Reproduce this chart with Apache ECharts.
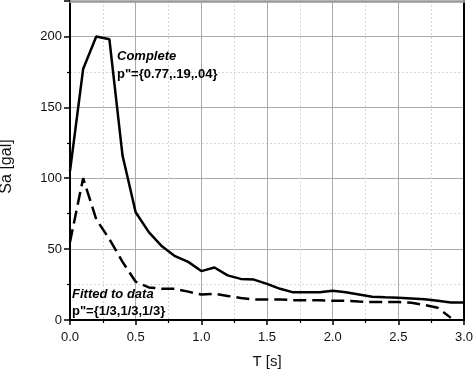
<!DOCTYPE html>
<html>
<head>
<meta charset="utf-8">
<script src="https://cdn.jsdelivr.net/npm/echarts@6/dist/echarts.min.js"></script>
<style>html,body{margin:0;padding:0;background:#fff}#c{width:474px;height:370px}</style>
</head>
<body>
<div id="c"></div>
<script>
var periods = [0.0,0.1,0.2,0.3,0.4,0.5,0.6,0.7,0.8,0.9,1.0,1.1,1.2,1.3,1.4,1.5,1.6,1.7,1.8,1.9,2.0,2.1,2.2,2.3,2.4,2.5,2.6,2.7,2.8,2.9,3.0];
var completeSa = [105,177,200,198,116,76,62,52,45,41,34.5,37,31.5,29,28.5,25.5,22,19.5,19.5,19.5,20.6,19.5,18,16.4,16,15.7,15.2,14.6,13.5,12.4,12.4];
var fittedSa = [55,100,71,57,41,27,23,22,22,20,18,18.5,17,15.5,14.5,14.5,14.5,14,14,14,13.6,13.5,13,12.7,12.7,12.7,12.2,10.6,8.7,1.5,null];
var xTicks = ['0.0','0.5','1.0','1.5','2.0','2.5','3.0'];
var yTicks = ['0','50','100','150','200'];
var completeLabel = ['Complete', 'p"={0.77,.19,.04}'];
var fittedLabel = ['Fitted to data', 'p"={1/3,1/3,1/3}'];

function pairs(xs, ys){ var out=[]; for(var i=0;i<xs.length;i++){ if(ys[i]!==null) out.push([xs[i], ys[i]]); } return out; }

var FONT = 'Liberation Sans, Arial, Helvetica, sans-serif';
var chart = echarts.init(document.getElementById('c'), null, {renderer:'canvas'});
chart.setOption({
  animation:false,
  backgroundColor:'#fff',
  grid:{left:70,right:10,top:1,bottom:50,containLabel:false,outerBoundsMode:'none'},
  xAxis:[{
    type:'value',min:0,max:3,interval:0.5,
    name:'T [s]',nameLocation:'middle',nameGap:34,
    nameTextStyle:{fontFamily:FONT,fontSize:15,color:'#111'},
    axisLine:{show:true,onZero:false,lineStyle:{color:'#000',width:2}},
    axisTick:{show:true,inside:false,length:5,lineStyle:{color:'#000',width:1.5}},
    minorTick:{show:true,splitNumber:2,length:3,lineStyle:{color:'#000',width:1.2}},
    axisLabel:{fontFamily:FONT,fontSize:13,color:'#111',margin:11,formatter:function(v){var s=v.toFixed(1);return xTicks.indexOf(s)>=0?s:'';}},
    splitLine:{show:true,lineStyle:{color:'#aaaaaa',width:1}},
    minorSplitLine:{show:true,lineStyle:{color:'#d6d6d6',width:1,type:[2,2]}}
  },{
    type:'value',min:0,max:3,interval:0.5,position:'top',
    axisLine:{show:true,onZero:false,lineStyle:{color:'#9a9a9a',width:2.5}},
    axisTick:{show:false},axisLabel:{show:false},splitLine:{show:false}
  }],
  yAxis:[{
    type:'value',min:0,max:225,interval:50,
    name:'Sa [gal]',nameLocation:'middle',nameGap:55,nameRotate:90,
    nameTextStyle:{fontFamily:FONT,fontSize:16,color:'#111',padding:[0,12,0,0]},
    axisLine:{show:true,onZero:false,lineStyle:{color:'#000',width:2}},
    axisTick:{show:true,inside:false,length:6,lineStyle:{color:'#000',width:1.5}},
    minorTick:{show:true,splitNumber:2,length:3,lineStyle:{color:'#000',width:1.2}},
    axisLabel:{fontFamily:FONT,fontSize:13,color:'#111',margin:8,showMaxLabel:false,formatter:function(v){var s=String(v);return yTicks.indexOf(s)>=0?s:'';}},
    splitLine:{show:true,lineStyle:{color:'#aaaaaa',width:1}},
    minorSplitLine:{show:true,lineStyle:{color:'#d6d6d6',width:1,type:[2,2]}}
  },{
    type:'value',min:0,max:225,interval:50,position:'right',
    axisLine:{show:true,onZero:false,lineStyle:{color:'#000',width:2}},
    axisTick:{show:false},axisLabel:{show:false},splitLine:{show:false}
  }],
  series:[{
    name:'Complete',type:'line',data:pairs(periods,completeSa),
    showSymbol:false,symbol:'none',
    lineStyle:{color:'#000',width:2.5},z:5
  },{
    name:'Fitted to data',type:'line',data:pairs(periods,fittedSa),
    showSymbol:false,symbol:'none',
    lineStyle:{color:'#000',width:2.5,type:[13,6]},z:5
  }],
  graphic:[
    {type:'text',left:117,top:50,z:10,style:{text:completeLabel[0],font:'italic bold 13px '+FONT,fill:'#000'}},
    {type:'text',left:117,top:68,z:10,style:{text:completeLabel[1],font:'bold 13px '+FONT,fill:'#000'}},
    {type:'text',left:72,top:288,z:10,style:{text:fittedLabel[0],font:'italic bold 13px '+FONT,fill:'#000'}},
    {type:'text',left:72,top:305,z:10,style:{text:fittedLabel[1],font:'bold 13px '+FONT,fill:'#000'}}
  ]
});
</script>
</body>
</html>
